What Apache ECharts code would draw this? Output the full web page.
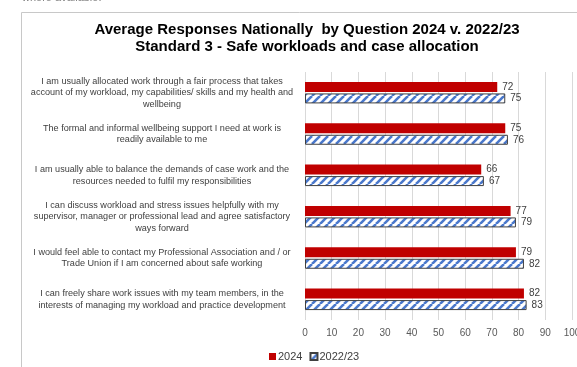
<!DOCTYPE html>
<html>
<head>
<meta charset="utf-8">
<script src="https://cdn.jsdelivr.net/npm/echarts@6/dist/echarts.min.js"></script>
<style>
  html, body { margin: 0; padding: 0; background: #fff; }
  #chart { width: 577px; height: 367px; }
</style>
</head>
<body>
<div id="chart"></div>
<script>
// Survey statements, top to bottom
const questions = [
  'I am usually allocated work through a fair process that takes\naccount of my workload, my capabilities/ skills and my health and\nwellbeing',
  'The formal and informal wellbeing support I need at work is\nreadily available to me',
  'I am usually able to balance the demands of case work and the\nresources needed to fulfil my responsibilities',
  'I can discuss workload and stress issues helpfully with my\nsupervisor, manager or professional lead and agree satisfactory\nways forward',
  'I would feel able to contact my Professional Association and / or\nTrade Union if I am concerned about safe working',
  'I can freely share work issues with my team members, in the\ninterests of managing my workload and practice development'
];
const seriesNames = ['2024', '2022/23'];
const values2024 = [72, 75, 66, 77, 79, 82];
const values2022 = [75, 76, 67, 79, 82, 83];
const xTicks = [0, 10, 20, 30, 40, 50, 60, 70, 80, 90, 100];

// Diagonal blue hatch on white for the earlier survey
function makeHatch() {
  const s = 8;
  const c = document.createElement('canvas');
  c.width = s; c.height = s;
  const g = c.getContext('2d');
  g.fillStyle = '#ffffff';
  g.fillRect(0, 0, s, s);
  g.strokeStyle = '#4A78CC';
  g.lineWidth = 2.6;
  for (let k = -1; k <= 1; k++) {
    g.beginPath();
    g.moveTo(k * s, s);
    g.lineTo(k * s + s, 0);
    g.stroke();
  }
  return c;
}
const hatch = { image: makeHatch(), repeat: 'repeat' };

const chart = echarts.init(document.getElementById('chart'), null, { renderer: 'canvas' });
const font = '"Liberation Sans", Arial, sans-serif';

chart.setOption({
  animation: false,
  backgroundColor: '#fff',
  textStyle: { fontFamily: font },
  graphic: [
    { type: 'text', left: 22, top: -8, style: { text: 'where available.', font: '11px ' + font, fill: '#7f7f7f' } },
    { type: 'polyline', shape: { points: [[21.5, 400], [21.5, 12.5], [600, 12.5]] }, style: { stroke: '#c8c8c8', lineWidth: 1, fill: null } },
    { type: 'text', x: 307, y: 30, style: { text: 'Average Responses Nationally  by Question 2024 v. 2022/23', font: 'bold 15px ' + font, fill: '#000', align: 'center', verticalAlign: 'middle' } },
    { type: 'text', x: 307, y: 47, style: { text: 'Standard 3 - Safe workloads and case allocation', font: 'bold 15px ' + font, fill: '#000', align: 'center', verticalAlign: 'middle' } }
  ],
  legend: {
    data: seriesNames,
    left: 264,
    top: 346,
    itemWidth: 7,
    itemHeight: 7,
    itemGap: 7,
    icon: 'rect',
    textStyle: { fontSize: 11, color: '#404040', fontFamily: font, padding: [0, 0, 0, -3] }
  },
  grid: { left: 305, right: 5, top: 72, bottom: 47, containLabel: false, outerBoundsMode: 'none' },
  xAxis: {
    type: 'value',
    min: xTicks[0],
    max: xTicks[xTicks.length - 1],
    interval: 10,
    axisLine: { show: false },
    axisTick: { show: false },
    axisLabel: { color: '#595959', fontSize: 10, margin: 8, fontFamily: font },
    splitLine: { show: true, lineStyle: { color: '#d9d9d9', width: 1 } }
  },
  yAxis: {
    type: 'category',
    data: questions,
    inverse: true,
    axisLine: { show: false },
    axisTick: { show: false },
    axisLabel: {
      color: '#404040',
      fontSize: 9.1,
      lineHeight: 11.5,
      align: 'center',
      margin: 143,
      fontFamily: font
    }
  },
  series: [
    {
      name: seriesNames[0],
      type: 'bar',
      data: values2024,
      barWidth: 10,
      barGap: '15%',
      itemStyle: { color: '#C00000' },
      label: { show: true, position: 'right', distance: 5, color: '#404040', fontSize: 10, fontFamily: font }
    },
    {
      name: seriesNames[1],
      type: 'bar',
      data: values2022,
      barWidth: 10,
      barGap: '15%',
      itemStyle: { color: hatch, borderColor: '#404040', borderWidth: 1 },
      label: { show: true, position: 'right', distance: 5, color: '#404040', fontSize: 10, fontFamily: font }
    }
  ]
});
</script>
</body>
</html>
